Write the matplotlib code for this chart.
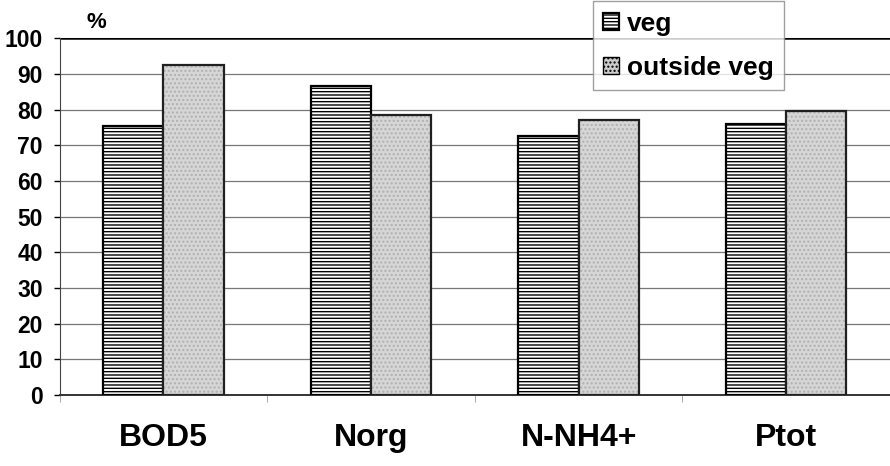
import numpy as np
import matplotlib
matplotlib.use('Agg')
from matplotlib import pyplot as plt

categories = ['BOD5', 'Norg', 'N-NH4+', 'Ptot']
veg = [75.3, 86.7, 72.7, 75.9]
outside_veg = [92.6, 78.6, 77.0, 79.5]
yticks = [0, 10, 20, 30, 40, 50, 60, 70, 80, 90, 100]

plt.rcParams['font.family'] = ['Liberation Sans', 'DejaVu Sans']
plt.rcParams['font.weight'] = 'bold'
plt.rcParams['hatch.linewidth'] = 1.0

fig = plt.figure(figsize=(8.9, 4.66), dpi=100)
ax = fig.add_axes([0.067, 0.152, 0.933, 0.766])

x = np.arange(len(categories))
w = 0.29
ax.bar(x - w / 2, veg, w, facecolor='white', edgecolor='black', hatch='-----',
       linewidth=1.6, label='veg', zorder=3)
# stipple texture for outside veg, then the outline
ax.bar(x + w / 2, outside_veg, w, facecolor='#d6d6d6', edgecolor='#b0b0b0', hatch='....',
       linewidth=0, zorder=3)
ax.bar(x + w / 2, outside_veg, w, facecolor='none', edgecolor='#202020',
       linewidth=1.6, zorder=4)
ax.bar([0], [0], 0, facecolor='#cccccc', edgecolor='black', hatch='....',
       label='outside veg')

ax.set_xlim(-0.5, len(categories) - 0.5)
ax.set_ylim(0, 100)
ax.set_yticks(yticks)
ax.set_yticklabels([str(t) for t in yticks], fontsize=16.5, fontweight='bold')
ax.set_xticks(x)
ax.set_xticklabels(categories, fontsize=23, fontweight='bold')
ax.tick_params(axis='x', length=0, pad=20)
ax.set_xticks(np.arange(len(categories) + 1) - 0.5, minor=True)
ax.tick_params(axis='x', which='minor', length=5, color='#999999')
ax.tick_params(axis='y', length=4, width=1, pad=8)

for t in yticks[1:-1]:
    ax.axhline(t, color='#777777', linewidth=0.9, zorder=1)
ax.axhline(100, color='black', linewidth=1.8, zorder=2)

for s in ['top', 'right']:
    ax.spines[s].set_visible(False)
ax.spines['left'].set_color('#444444')
ax.spines['bottom'].set_color('#333333')
ax.spines['bottom'].set_linewidth(1.4)

fig.text(0.097, 0.94, '%', fontsize=16, fontweight='bold')

leg = fig.legend(loc='upper left', bbox_to_anchor=(0.666, 0.997), fontsize=19,
                 frameon=True, fancybox=False, handlelength=0.6, handleheight=0.6,
                 handletextpad=0.3, labelspacing=0.75, borderpad=0.4, borderaxespad=0)
leg.get_frame().set_edgecolor('#888888')
leg.get_frame().set_linewidth(1.0)

fig.savefig('out.png', dpi=100)
